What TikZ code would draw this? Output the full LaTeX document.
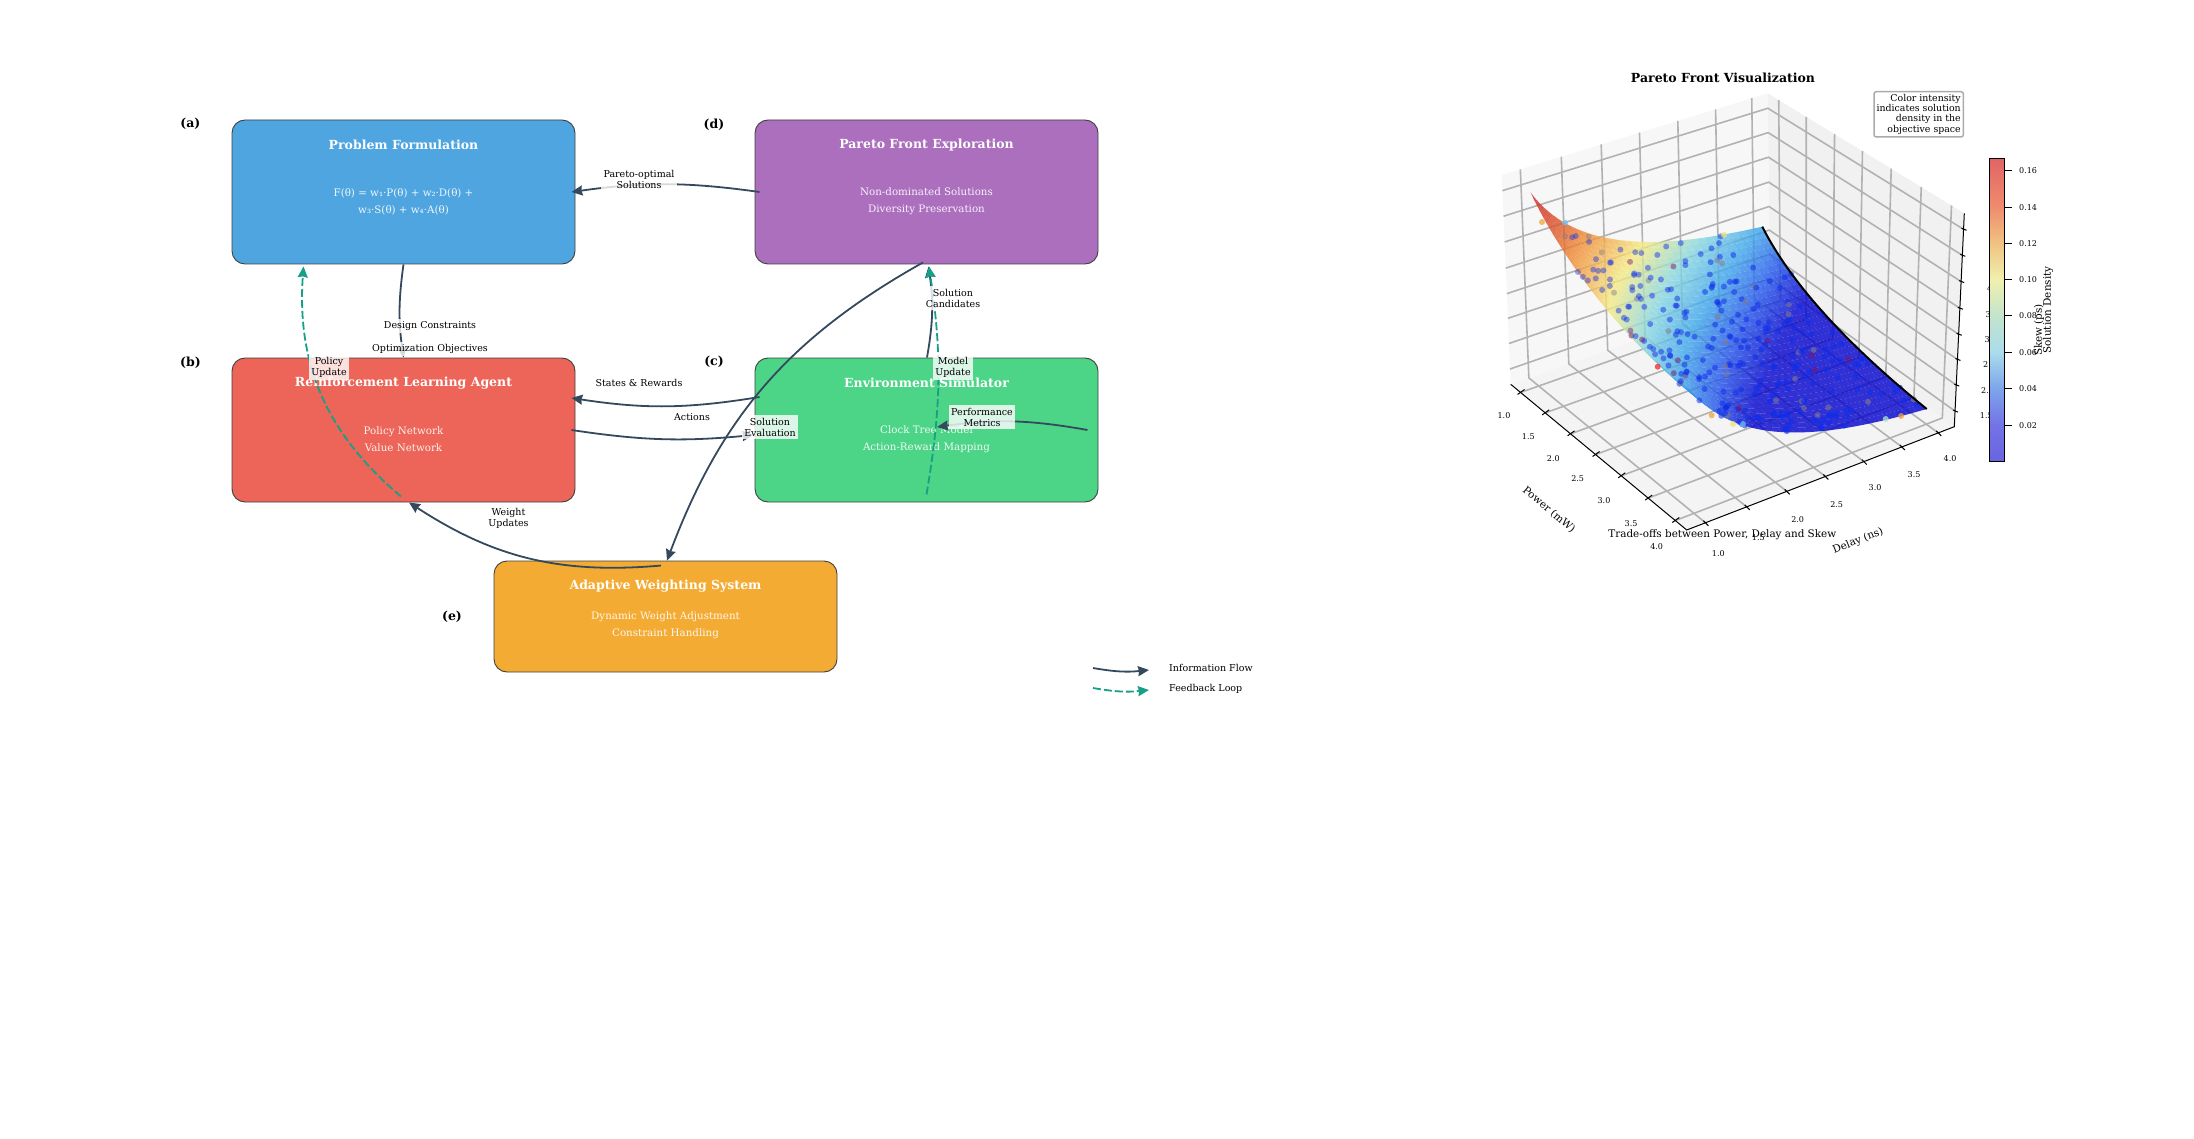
\documentclass[tikz,border=0pt]{standalone}
\usepackage{fontspec}
\setmainfont{DejaVu Serif}
\usepackage{xcolor}
\usetikzlibrary{arrows.meta,calc}

\definecolor{flowcol}{RGB}{52,73,94}
\definecolor{loopcol}{RGB}{22,160,133}
\definecolor{boxblue}{RGB}{79,165,224}
\definecolor{boxred}{RGB}{236,101,88}
\definecolor{boxgreen}{RGB}{76,212,135}
\definecolor{boxpurple}{RGB}{171,111,190}
\definecolor{boxorange}{RGB}{244,171,51}
\definecolor{gridcol}{RGB}{178,178,178}
%% surface colour steps, red end first
\definecolor{cm0}{RGB}{205,30,30}
\definecolor{cm1}{RGB}{240,140,50}
\definecolor{cm2}{RGB}{245,235,130}
\definecolor{cm3}{RGB}{135,215,225}
\definecolor{cm4}{RGB}{60,165,235}
\definecolor{cm5}{RGB}{30,80,235}
\definecolor{cm6}{RGB}{0,0,205}
\definecolor{dotblue}{RGB}{15,45,235}
\definecolor{dotgrey}{RGB}{130,120,140}
\definecolor{dotdark}{RGB}{120,20,110}
\definecolor{dotred}{RGB}{240,40,30}
\definecolor{dotorange}{RGB}{240,165,60}
\definecolor{dotsky}{RGB}{110,195,240}
\definecolor{dotyellow}{RGB}{235,225,120}
\definecolor{dotmint}{RGB}{170,230,200}
%% colour bar steps, low end first
\definecolor{cb0}{RGB}{105,100,225}
\definecolor{cb1}{RGB}{115,115,230}
\definecolor{cb2}{RGB}{125,165,235}
\definecolor{cb3}{RGB}{170,220,235}
\definecolor{cb4}{RGB}{195,228,205}
\definecolor{cb5}{RGB}{240,240,175}
\definecolor{cb6}{RGB}{240,195,130}
\definecolor{cb7}{RGB}{240,140,110}
\definecolor{cb8}{RGB}{225,100,100}
\pgfdeclareverticalshading{densitybar}{100bp}{
  color(0bp)=(cb0); color(25bp)=(cb0); color(31bp)=(cb1); color(37bp)=(cb2); color(43bp)=(cb3); color(49bp)=(cb4);
  color(55bp)=(cb5); color(61bp)=(cb6); color(67bp)=(cb7); color(75bp)=(cb8); color(100bp)=(cb8)}

\begin{document}
\begin{tikzpicture}[
  x=1pt, y=-1pt,
  boxnode/.style={draw=black!75, line width=0.9pt, rounded corners=13pt,
              minimum width=343pt, minimum height=144pt, inner sep=0pt},
  boxtitle/.style={text=white, font=\fontsize{12.5}{15}\selectfont\bfseries},
  boxtext/.style={text=white, text opacity=.9, align=center, font=\fontsize{10.3}{17}\selectfont},
  panellbl/.style={font=\fontsize{12.5}{15}\selectfont\bfseries},
  flowlbl/.style={fill=white, fill opacity=.8, text opacity=1, align=center, inner sep=2.5pt,
              font=\fontsize{9.5}{11}\selectfont},
  plainlbl/.style={align=center, font=\fontsize{9.5}{11}\selectfont},
  infoarr/.style={-{Stealth[length=11pt,width=10pt,inset=1pt]}, flowcol, line width=1.8pt},
  loparr/.style={-{Stealth[length=11pt,width=10pt,inset=1pt]}, loopcol, line width=1.8pt,
              dash pattern=on 8pt off 3pt},
  ticklbl/.style={font=\fontsize{8}{9}\selectfont},
  axlbl/.style={font=\fontsize{10.4}{12}\selectfont},
  gridln/.style={gridcol, line width=1.6pt},
  surfq/.style={fill opacity=.8},
  declare function={
    bz(\tv,\pa,\pb,\pc,\pd)=(1-\tv)*(1-\tv)*(1-\tv)*\pa+3*(1-\tv)*(1-\tv)*\tv*\pb
                            +3*(1-\tv)*\tv*\tv*\pc+\tv*\tv*\tv*\pd;
    sfx(\su,\sv)=(1-\sv)*bz(\su,1530.7,1575,1660,1762.3)+\sv*bz(\su,1690,1735,1810,1926.7)
                 +(1-\su)*bz(\sv,1530.7,1565,1625,1690)+\su*bz(\sv,1762.3,1793,1856,1926.7)
                 -((1-\su)*(1-\sv)*1530.7+\su*(1-\sv)*1762.3+(1-\su)*\sv*1690+\su*\sv*1926.7);
    sfy(\su,\sv)=(1-\sv)*bz(\su,192.7,252,250,226.7)+\sv*bz(\su,390,443,443,409)
                 +(1-\su)*bz(\sv,192.7,265,340,390)+\su*bz(\sv,226.7,288,352,409)
                 -((1-\su)*(1-\sv)*192.7+\su*(1-\sv)*226.7+(1-\su)*\sv*390+\su*\sv*409);
  }
]
\useasboundingbox (0,0) rectangle (2194,1139);

%% Boxes
\node[boxnode, fill=boxblue]   (problemform) at (403.5,192) {};
\node[boxnode, fill=boxred]    (rlagent)     at (403.5,430) {};
\node[boxnode, fill=boxgreen]  (envsim)      at (926.5,430) {};
\node[boxnode, fill=boxpurple] (paretofront) at (926.5,192) {};
\node[boxnode, fill=boxorange, minimum height=111pt] (adaptive) at (665.5,616.5) {};

%% Box texts
\node[boxtitle] (problemtitle) at (403.5,145) {Problem Formulation};
\node[boxtext]  (problemsub)   at (403.5,202) {F(θ) = w₁·P(θ) + w₂·D(θ) +\\w₃·S(θ) + w₄·A(θ)};
\node[boxtitle] (rltitle)      at (403.5,383) {Reinforcement Learning Agent};
\node[boxtext]  (rlsub)        at (403.5,439) {Policy Network\\Value Network};
\node[boxtitle] (envtitle)     at (926.5,383) {Environment Simulator};
\node[boxtext]  (envsub)       at (926.5,439) {Clock Tree Model\\Action-Reward Mapping};
\node[boxtitle] (paretotitle)  at (926.5,145) {Pareto Front Exploration};
\node[boxtext]  (paretosub)    at (926.5,201) {Non-dominated Solutions\\Diversity Preservation};
\node[boxtitle] (adapttitle)   at (665.5,586) {Adaptive Weighting System};
\node[boxtext]  (adaptsub)     at (665.5,625.5) {Dynamic Weight Adjustment\\Constraint Handling};

\node[panellbl] (lbla) at (190.4,124) {(a)};
\node[panellbl] (lblb) at (190.4,363) {(b)};
\node[panellbl] (lblc) at (714,362)   {(c)};
\node[panellbl] (lbld) at (714,125)   {(d)};
\node[panellbl] (lble) at (452,617)   {(e)};

%% Connectors
\draw[infoarr] ([xshift=5pt]paretofront.west) to[bend right=8] ([xshift=-4pt]problemform.east);
\draw[infoarr] (problemform.south) to[bend right=8] (rlagent.north);
\draw[infoarr] ([xshift=5pt,yshift=33pt]envsim.west) to[bend left=9] ([xshift=-4pt,yshift=32pt]rlagent.east);
\draw[infoarr] ([xshift=-4pt]rlagent.east) to[bend right=7] ([xshift=-1pt,yshift=-5pt]envsim.west);
\draw[infoarr] ([xshift=0.5pt]envsim.north) to[bend right=9] ([xshift=2pt,yshift=-2pt]paretofront.south);
\draw[infoarr] ([xshift=-11pt]envsim.east) to[bend right=9] ([xshift=10.5pt,yshift=3pt]envsim.center);
\draw[infoarr] ([xshift=-3.5pt,yshift=2pt]paretofront.south) to[bend right=20] ([xshift=1.5pt]adaptive.north);
\draw[infoarr] ([xshift=-4.5pt,yshift=-5pt]adaptive.north) to[bend left=19] ([xshift=5.5pt]rlagent.south);
\draw[loparr] ([xshift=-2.5pt,yshift=6pt]rlagent.south) to[bend left=27] ([xshift=-100pt,yshift=-2pt]problemform.south);
\draw[loparr] ([yshift=8pt]envsim.south) to[bend right=9] ([xshift=2.5pt,yshift=-2pt]paretofront.south);

%% Connector labels
\node[flowlbl] (paretosols) at (639,179) {Pareto-optimal\\Solutions};
\node[flowlbl] (designcons) at (430,326) {Design Constraints};
\node[flowlbl] (optobj)     at (430,349) {Optimization Objectives};
\node[flowlbl] (polupdate)  at (329,367.5) {Policy\\Update};
\node[plainlbl] (statesrew) at (639,383) {States \& Rewards};
\node[plainlbl] (actions)   at (692,417) {Actions};
\node[flowlbl] (solneval)   at (770,427) {Solution\\Evaluation};
\node[flowlbl] (solncand)   at (953,298) {Solution\\Candidates};
\node[flowlbl] (modupdate)  at (953,367.5) {Model\\Update};
\node[flowlbl] (perfmet)    at (982,417) {Performance\\Metrics};
\node[plainlbl] (wtupdate)  at (508.5,518.5) {Weight\\Updates};

%% Legend
\coordinate (infoa) at (1093,668);
\coordinate (infob) at (1149,670);
\coordinate (loopa) at (1093,688);
\coordinate (loopb) at (1149,690);
\draw[infoarr] (infoa) to[bend right=8] (infob);
\draw[loparr]  (loopa) to[bend right=8] (loopb);
\node[plainlbl, anchor=west, inner sep=0pt] (infotxt) at (1169,668) {Information Flow};
\node[plainlbl, anchor=west, inner sep=0pt] (looptxt) at (1169,689) {Feedback Loop};

%% 3D panel: floor and wall corners
\coordinate (fL) at (1510.7,384.3);
\coordinate (fF) at (1686.7,530);
\coordinate (fR) at (1954.3,426.7);
\coordinate (fB) at (1770,293);
\coordinate (tL) at (1501.7,175);
\coordinate (tB) at (1767.7,93.3);
\coordinate (tR) at (1964.3,213.3);

\fill[black!3]  (fL) -- (fB) -- (tB) -- (tL) -- cycle;
\fill[black!5.5] (fB) -- (fR) -- (tR) -- (tB) -- cycle;
\fill[black!4.5] (fL) -- (fF) -- (fR) -- (fB) -- cycle;

%% grid lines
\foreach \t in {.056,.196,.34,.482,.628,.781,.935}
  \draw[gridln] ($(fL)!\t!(fF)$) -- ($(fB)!\t!(fR)$) -- ($(tB)!\t!(tR)$);
\foreach \t in {.07,.224,.374,.518,.662,.804,.94}
  \draw[gridln] ($(fF)!\t!(fR)$) -- ($(fL)!\t!(fB)$) -- ($(tL)!\t!(tB)$);
\foreach \t in {.075,.197,.32,.445,.567,.685,.805,.927}
  \draw[gridln] ($(tL)!\t!(fL)$) -- ($(tB)!\t!(fB)$) -- ($(tR)!\t!(fR)$);

%% axes and ticks
\draw[black, line width=1pt] (fL) -- (fF) -- (fR) -- (tR);
\foreach \t in {.056,.196,.34,.482,.628,.781,.935}
  \draw[black, line width=1pt] ($(fL)!\t!(fF)+(-3,2)$) -- ($(fL)!\t!(fF)+(4,-3)$);
\foreach \t in {.07,.224,.374,.518,.662,.804,.94}
  \draw[black, line width=1pt] ($(fF)!\t!(fR)+(-2,-2)$) -- ($(fF)!\t!(fR)+(3,3)$);
\foreach \t in {.075,.197,.32,.445,.567,.685,.805,.927}
  \draw[black, line width=1pt] ($(tR)!\t!(fR)+(-2,-1)$) -- ($(tR)!\t!(fR)+(3,1)$);

\foreach \x/\y/\v in {1504/416/1.0,1528.3/437/1.5,1553.3/458.3/2.0,1577.7/479/2.5,1604/501/3.0,1631/524/3.5,1656.7/547/4.0,
                      1718.3/553.3/1.0,1758.3/537.3/1.5,1797.7/520/2.0,1836.7/505/2.5,1875/488/3.0,1914/474.3/3.5,1950/459/4.0}
  \node[ticklbl] at (\x,\y) {\v};
\foreach \x/\y/\v in {1979.7/415.7/1.5,1981/391/2.0,1983/365/2.5,1984.3/340/3.0,1985.3/314.3/3.5,1987/288.3/4.0}
  \node[ticklbl, anchor=west, inner sep=0pt] at (\x,\y) {\v};
\node[axlbl, rotate=-40] (poweraxis) at (1549,510) {Power (mW)};
\node[axlbl, rotate=22]  (delayaxis) at (1858,541) {Delay (ns)};

%% surface
\foreach \i in {0,...,36}
  \foreach \j in {0,...,36}
    \coordinate (s\i-\j) at ({sfx(\i/36,\j/36)},{sfy(\i/36,\j/36)});
\foreach \i in {0,...,35}
  \foreach \j in {0,...,35} {
    \pgfmathtruncatemacro\ii{\i+1}
    \pgfmathtruncatemacro\jj{\j+1}
    \pgfmathsetmacro\idx{min(5.99,4*((\i+\j+1)/36)^1.3)}
    \pgfmathtruncatemacro\ca{\idx}
    \pgfmathtruncatemacro\cb{\ca+1}
    \pgfmathtruncatemacro\pct{100*(1+\ca-\idx)}
    \colorlet{quadcol}{cm\ca!\pct!cm\cb}
    \fill[quadcol, surfq] (s\i-\j) -- (s\ii-\j) -- (s\ii-\jj) -- (s\i-\jj) -- cycle;
  }

%% scattered solutions
\pgfmathsetseed{4217}
\foreach \k in {1,...,300} {
  \pgfmathsetmacro\du{rnd^.7}
  \pgfmathsetmacro\dv{rnd^.8}
  \pgfmathtruncatemacro\dk{100*rnd}
  \pgfmathsetmacro\dop{.35+.17*(\du+\dv)}
  \ifnum\dk<90 \def\dcol{dotblue}\else\ifnum\dk<97 \def\dcol{dotgrey}\else\def\dcol{dotdark}\fi\fi
  \fill[\dcol, fill opacity=\dop] ({sfx(\du,\dv)},{sfy(\du,\dv)}) circle (3pt);
}
\foreach \x/\y/\c in {1657.7/366.7/dotred,1711.7/415.3/dotorange,1542/222/dotorange,1565/222.7/dotsky,
                      1724/235/dotyellow,1901/416/dotorange,1885.7/419/dotmint,1733/424/dotyellow,1743/424/dotsky}
  \fill[\c, fill opacity=.75] (\x,\y) circle (3pt);

%% front curve on the far edge
\draw[black, line width=2pt] (s36-0) .. controls (1793,288) and (1856,352) .. (s36-36);

%% Colour bar
\fill[white] (1989.3,158.7) rectangle (2004.3,461.3);
\shade[shading=densitybar] (1989.3,158.7) rectangle (2004.3,461.3);
\draw[black, line width=1pt] (1989.3,158.7) rectangle (2004.3,461.3);
\foreach \y/\v in {170.7/0.16,207.3/0.14,243.3/0.12,279.3/0.10,316/0.08,352.3/0.06,388.3/0.04,425.3/0.02} {
  \draw[black, line width=1pt] (2004.3,\y) -- (2011.5,\y);
  \node[ticklbl, anchor=west, inner sep=0pt] at (2019,\y) {\v};
}
\node[axlbl, rotate=90] (skewaxis) at (2039,330) {Skew (ps)};
\node[axlbl, rotate=90] (densaxis) at (2048,310) {Solution Density};

%% Panel texts
\node[font=\fontsize{12.5}{15}\selectfont\bfseries] (plottitle) at (1723,78) {Pareto Front Visualization};
\node[axlbl] (plotsub) at (1722.3,534.5) {Trade-offs between Power, Delay and Skew};
\node[draw=black!33, line width=1.5pt, rounded corners=2pt, fill=white, align=right, anchor=north east,
      inner sep=2.5pt, font=\fontsize{9.4}{10.3}\selectfont] (densnote) at (1964,91)
  {Color intensity\\indicates solution\\density in the\\objective space};

\end{tikzpicture}
\end{document}
